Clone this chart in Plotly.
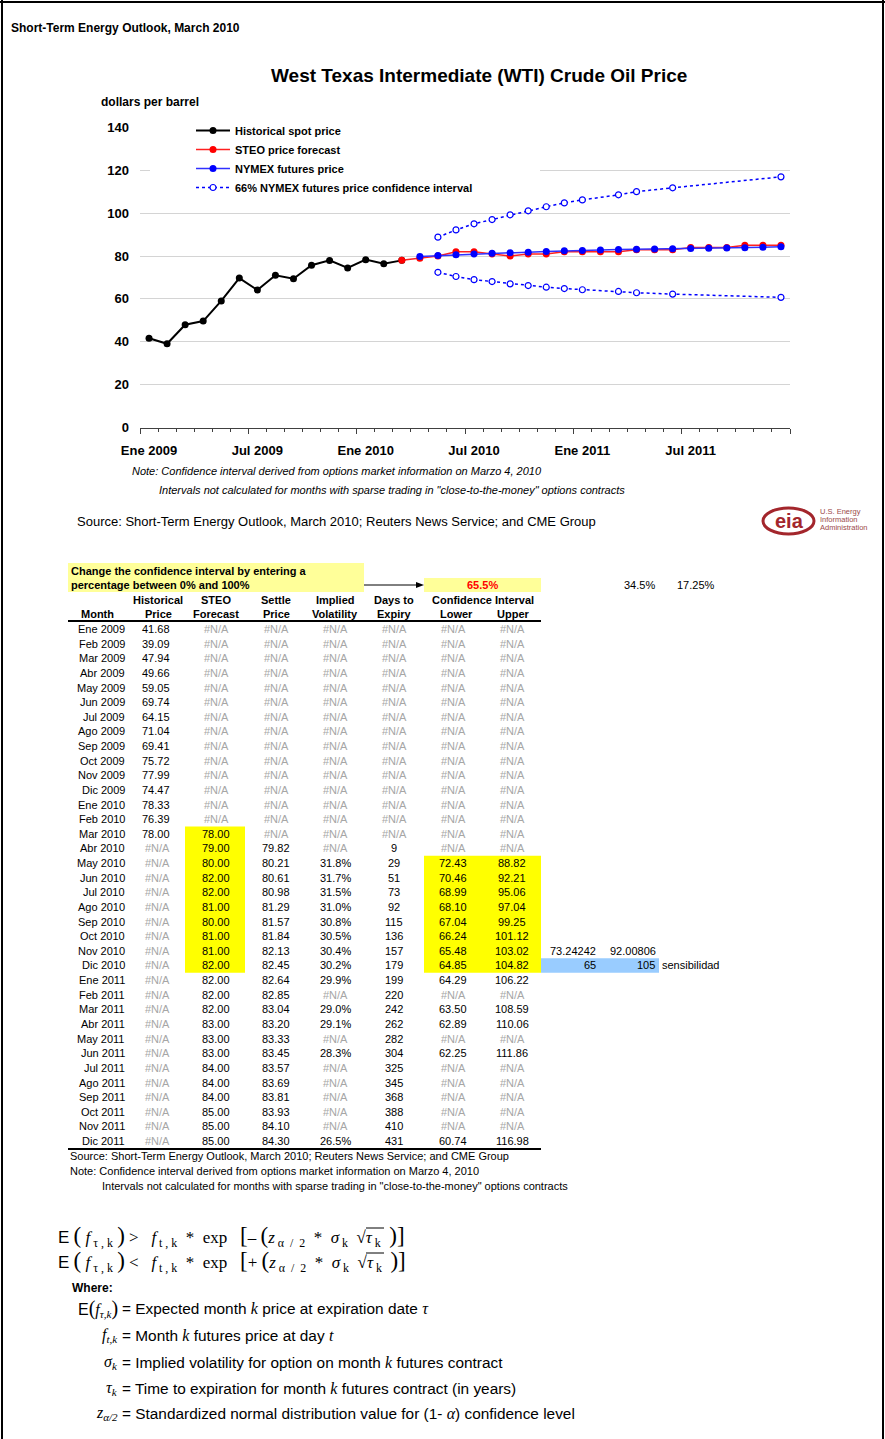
import plotly.graph_objects as go

W, H = 885, 1439
SANS = "Liberation Sans, Arial, sans-serif"
SERIF = "Liberation Serif, Times New Roman, serif"

# ---------------- data ----------------
months = ["Ene 2009", "Feb 2009", "Mar 2009", "Abr 2009", "May 2009", "Jun 2009",
          "Jul 2009", "Ago 2009", "Sep 2009", "Oct 2009", "Nov 2009", "Dic 2009",
          "Ene 2010", "Feb 2010", "Mar 2010", "Abr 2010", "May 2010", "Jun 2010",
          "Jul 2010", "Ago 2010", "Sep 2010", "Oct 2010", "Nov 2010", "Dic 2010",
          "Ene 2011", "Feb 2011", "Mar 2011", "Abr 2011", "May 2011", "Jun 2011",
          "Jul 2011", "Ago 2011", "Sep 2011", "Oct 2011", "Nov 2011", "Dic 2011"]
hist = [41.68, 39.09, 47.94, 49.66, 59.05, 69.74, 64.15, 71.04, 69.41, 75.72,
        77.99, 74.47, 78.33, 76.39, 78.00] + [None] * 21
steo = [None] * 14 + [78.00, 79.00, 80.00, 82.00, 82.00, 81.00, 80.00, 81.00, 81.00,
                      82.00, 82.00, 82.00, 82.00, 83.00, 83.00, 83.00, 84.00, 84.00,
                      84.00, 85.00, 85.00, 85.00]
settle = [None] * 15 + [79.82, 80.21, 80.61, 80.98, 81.29, 81.57, 81.84, 82.13, 82.45,
                        82.64, 82.85, 83.04, 83.20, 83.33, 83.45, 83.57, 83.69, 83.81,
                        83.93, 84.10, 84.30]
vol = [None] * 16 + [31.8, 31.7, 31.5, 31.0, 30.8, 30.5, 30.4, 30.2, 29.9, None, 29.0,
                     29.1, None, 28.3, None, None, None, None, None, 26.5]
days = [None] * 15 + [9, 29, 51, 73, 92, 115, 136, 157, 179, 199, 220, 242, 262, 282,
                      304, 325, 345, 368, 388, 410, 431]
lower = [None] * 16 + [72.43, 70.46, 68.99, 68.10, 67.04, 66.24, 65.48, 64.85, 64.29,
                       None, 63.50, 62.89, None, 62.25, None, None, None, None, None, 60.74]
upper = [None] * 16 + [88.82, 92.21, 95.06, 97.04, 99.25, 101.12, 103.02, 104.82, 106.22,
                       None, 108.59, 110.06, None, 111.86, None, None, None, None, None, 116.98]
y_ticks = [0, 20, 40, 60, 80, 100, 120, 140]
conf_level = "65.5%"
side_vals = ["34.5%", "17.25%"]
sens_top = ["73.24242", "92.00806"]
sens_bot = ["65", "105"]

idx = list(range(len(months)))


def px(x):
    return x / W


def py(y):
    return 1 - y / H


fig = go.Figure()

# ---------------- chart traces ----------------
fig.add_trace(go.Scatter(x=idx, y=hist, name="Historical spot price", mode="lines+markers",
                         line=dict(color="black", width=2), marker=dict(color="black", size=7)))
fig.add_trace(go.Scatter(x=idx, y=steo, name="STEO price forecast", mode="lines+markers",
                         line=dict(color="#FF2020", width=1.5), marker=dict(color="#FF0000", size=7)))
fig.add_trace(go.Scatter(x=idx, y=settle, name="NYMEX futures price", mode="lines+markers",
                         line=dict(color="#3030FF", width=1.5), marker=dict(color="#0000FF", size=7)))
fig.add_trace(go.Scatter(x=idx, y=upper, name="66% NYMEX futures price confidence interval",
                         mode="lines+markers", connectgaps=True,
                         line=dict(color="#0000FF", width=1.5, dash="dot"),
                         marker=dict(color="white", size=6, line=dict(color="#0000FF", width=1.2))))
fig.add_trace(go.Scatter(x=idx, y=lower, name="lower", showlegend=False,
                         mode="lines+markers", connectgaps=True,
                         line=dict(color="#0000FF", width=1.5, dash="dot"),
                         marker=dict(color="white", size=6, line=dict(color="#0000FF", width=1.2))))

major = [i - 0.5 for i in range(0, 37, 6)]
major_text = [months[i] if i < len(months) else " " for i in range(0, 37, 6)]
minor_vals = [i - 0.5 for i in range(0, 37)]

ann = []
shapes = []


def T(text, x, y, size=11, color="black", xanchor="center", bold=False, italic=False,
      family=SANS, yanchor="middle"):
    ann.append(dict(x=px(x), y=py(y), xref="paper", yref="paper", text=text, showarrow=False,
                    xanchor=xanchor, yanchor=yanchor, borderpad=0,
                    font=dict(size=size, color=color, family=family,
                              weight="bold" if bold else "normal",
                              style="italic" if italic else "normal")))


def R(x0, y0, x1, y1, fill, layer="below", line=None):
    shapes.append(dict(type="rect", xref="paper", yref="paper", x0=px(x0), x1=px(x1),
                       y0=py(y0), y1=py(y1), fillcolor=fill, layer=layer,
                       line=line or dict(width=0)))


def L(x0, y0, x1, y1, color="black", width=1):
    shapes.append(dict(type="line", xref="paper", yref="paper", x0=px(x0), x1=px(x1),
                       y0=py(y0), y1=py(y1), line=dict(color=color, width=width)))


# page frame
L(2, 0, 2, H, width=2)
L(0, 2, W, 2, width=2)
L(883, 0, 883, H, width=2)

# titles
T("Short-Term Energy Outlook, March 2010", 10, 28, size=12, bold=True, xanchor="left")
T("West Texas Intermediate (WTI) Crude Oil Price", 479, 75, size=19, bold=True)
T("dollars per barrel", 100, 102, size=12, bold=True, xanchor="left")

# legend backdrop (hides grid)
R(150, 117, 540, 197, "white", layer="above")

# notes under chart
T("Note: Confidence interval derived from options market information on Marzo 4, 2010",
  131, 471, size=11, italic=True, xanchor="left")
T("Intervals not calculated for months with sparse trading in \"close-to-the-money\" options contracts",
  158, 490, size=11, italic=True, xanchor="left")
T("Source: Short-Term Energy Outlook, March 2010; Reuters News Service; and CME Group",
  76, 521, size=13, xanchor="left")

# eia logo
shapes.append(dict(type="circle", xref="paper", yref="paper", x0=px(763), x1=px(814),
                   y0=py(508), y1=py(534), line=dict(color="#A3262C", width=3), layer="above"))
T("eia", 789, 521, size=20, bold=True, color="#A3262C")
T("U.S. Energy", 819, 511, size=7.5, color="#9C4A4A", xanchor="left")
T("Information", 819, 519, size=7.5, color="#9C4A4A", xanchor="left")
T("Administration", 819, 527, size=7.5, color="#9C4A4A", xanchor="left")

# ---------------- table ----------------
R(68, 563, 364, 592, "#FFFF99")
T("Change the confidence interval by entering a", 70, 571, size=11, bold=True, xanchor="left")
T("percentage between 0% and 100%", 70, 585, size=11, bold=True, xanchor="left")
L(364, 585, 418, 585, width=1)
shapes.append(dict(type="path", xref="paper", yref="paper", fillcolor="black",
                   line=dict(width=0),
                   path="M {} {} L {} {} L {} {} Z".format(px(424), py(585), px(416), py(582),
                                                           px(416), py(588))))
R(424, 578, 541, 592, "#FFFF99")
T(conf_level, 482, 585, size=11, bold=True, color="#FF0000")
T(side_vals[0], 656, 585, size=11, xanchor="right")
T(side_vals[1], 716, 585, size=11, xanchor="right")

hdr1 = [("Historical", 158), ("STEO", 216), ("Settle", 276), ("Implied", 335),
        ("Days to", 394), ("Confidence Interval", 483)]
hdr2 = [("Month", 97), ("Price", 158), ("Forecast", 216), ("Price", 276),
        ("Volatility", 335), ("Expiry", 394), ("Lower", 456), ("Upper", 513)]
for t, x in hdr1:
    T(t, x, 600, size=11, bold=True)
for t, x in hdr2:
    T(t, x, 614, size=11, bold=True)
L(68, 621, 541, 621, width=2)

ROW0, DROW = 629, 14.63


def ry(i):
    return ROW0 + i * DROW


# highlights
R(185, ry(14) - 7.3, 245, ry(23) + 7.3, "#FFFF00")
R(424, ry(16) - 7.3, 541, ry(23) + 7.3, "#FFFF00")
R(541, ry(23) - 7.3, 659, ry(23) + 7.3, "#99CCFF")

cols = [(hist, "{:.2f}", 171, "right"), (steo, "{:.2f}", 216, "center"),
        (settle, "{:.2f}", 276, "center"), (vol, "{:.1f}%", 335, "center"),
        (days, "{:d}", 394, "center"), (lower, "{:.2f}", 453, "center"),
        (upper, "{:.2f}", 512, "center")]
for i, m in enumerate(months):
    y = ry(i)
    T(m, 126, y, size=11, xanchor="right")
    for vals, fmt, x, anc in cols:
        v = vals[i]
        if v is None:
            T("#N/A", x, y, size=11, color="#A6A6A6", xanchor=anc)
        else:
            T(fmt.format(v), x, y, size=11, xanchor=anc)
L(68, ry(35) + 8, 541, ry(35) + 8, width=2)

T(sens_top[0], 597, ry(22), size=11, xanchor="right")
T(sens_top[1], 657, ry(22), size=11, xanchor="right")
T(sens_bot[0], 597, ry(23), size=11, xanchor="right")
T(sens_bot[1], 656, ry(23), size=11, xanchor="right")
T("sensibilidad", 661, ry(23), size=11, xanchor="left")

T("Source: Short-Term Energy Outlook, March 2010; Reuters News Service; and CME Group",
  69, 1156, size=11, xanchor="left")
T("Note: Confidence interval derived from options market information on Marzo 4, 2010",
  69, 1171, size=11, xanchor="left")
T("Intervals not calculated for months with sparse trading in \"close-to-the-money\" options contracts",
  101, 1186, size=11, xanchor="left")


# ---------------- formulas ----------------
def sp(s, size, fam=SERIF, ital=False):
    inner = "<i>" + s + "</i>" if ital else s
    return "<span style='font-family:" + fam + ";font-size:" + str(size) + "px'>" + inner + "</span>"


def P(s):
    return sp(s, 23)


E17 = sp("E", 17, SANS)
f_common_l = E17 + " " + P("(") + " <i>f</i><sub> τ , k</sub> " + P(")")
f_common_r = ("  <i>f</i><sub> t , k</sub>  *  exp   ")
tail = ("<i>z</i><sub> α  /  2</sub>  *  <i>σ</i><sub> k</sub>  √<i>τ</i><sub> k</sub>  " + P(")") + P("]"))
f1 = f_common_l + " &gt; " + f_common_r + P("[") + "– " + P("(") + tail
f2 = f_common_l + " &lt; " + f_common_r + P("[") + "+ " + P("(") + tail
T(f1, 57, 1236, size=17, family=SERIF, xanchor="left")
T(f2, 57, 1261, size=17, family=SERIF, xanchor="left")
# radical overlines
L(366, 1228, 384, 1228, width=1)
L(366, 1253, 384, 1253, width=1)
T("Where:", 71, 1288, size=12, bold=True, xanchor="left")


def v(s):
    return sp(s, 16, SERIF, True)


def vs(s):
    return "<sub>" + sp(s, 11, SERIF, True) + "</sub>"


defs = [
    (sp("E", 16, SANS) + sp("(", 20) + v("f") + vs("τ,k") + sp(")", 20), 1308,
     "= Expected month " + v("k") + " price at expiration date " + v("τ")),
    (v("f") + vs("t,k"), 1335,
     "= Month " + v("k") + " futures price at day " + v("t")),
    (v("σ") + vs("k"), 1362,
     "= Implied volatility for option on month " + v("k") + " futures contract"),
    (v("τ") + vs("k"), 1388,
     "= Time to expiration for month " + v("k") + " futures contract (in years)"),
    (v("z") + vs("α/2"), 1413,
     "= Standardized normal distribution value for (1- " + v("α") + ") confidence level"),
]
for lhs, y, rhs in defs:
    T(lhs, 119, y, size=16, xanchor="right")
    T(rhs, 121, y, size=15.4, xanchor="left")

fig.update_layout(
    width=W, height=H, margin=dict(l=0, r=0, t=0, b=0, pad=0, autoexpand=False),
    paper_bgcolor="white", plot_bgcolor="white",
    font=dict(family=SANS, color="black"),
    showlegend=True,
    legend=dict(x=px(191), y=py(116), xanchor="left", yanchor="top",
                bgcolor="rgba(0,0,0,0)", font=dict(size=11, weight="bold"),
                tracegroupgap=0, itemwidth=34),
    xaxis=dict(domain=[px(140), px(790)], range=[-0.5, 35.5], tickmode="array",
               tickvals=major, ticktext=major_text, ticklabelshift=9, ticklabelstandoff=6,
               ticks="outside", ticklen=5, tickcolor="#404040", showline=True,
               linecolor="#404040", linewidth=1, showgrid=False, zeroline=False,
               automargin=False,
               tickfont=dict(size=13, weight="bold"),
               minor=dict(tickmode="array", tickvals=minor_vals, ticks="outside", ticklen=3,
                          tickcolor="#404040", showgrid=False)),
    yaxis=dict(domain=[py(427.5), py(127.5)], range=[0, 140], tickmode="array",
               tickvals=y_ticks, showgrid=True, gridcolor="#D4D4D4", gridwidth=1,
               zeroline=False, ticks="", tickfont=dict(size=13, weight="bold"),
               ticklabelstandoff=10, automargin=False),
    annotations=ann, shapes=shapes,
)

fig.write_html("out.html", config={"displayModeBar": False},
               post_script="document.body.style.margin='0';document.body.style.overflow='hidden';")
